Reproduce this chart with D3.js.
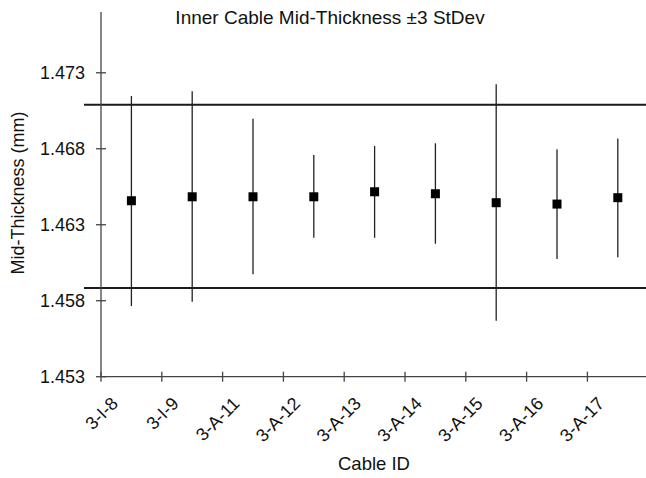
<!DOCTYPE html>
<html><head><meta charset="utf-8">
<script src="https://cdn.jsdelivr.net/npm/d3@7"></script>
<style>html,body{margin:0;padding:0;background:#fff;}svg{display:block;}</style>
</head><body>
<script>
const categories = ["3-I-8","3-I-9","3-A-11","3-A-12","3-A-13","3-A-14","3-A-15","3-A-16","3-A-17"];
const means = [1.46458,1.46484,1.46484,1.46484,1.46517,1.46504,1.46445,1.46436,1.46478];
const upper = [1.47147,1.47178,1.46997,1.46759,1.46818,1.46836,1.47224,1.46796,1.46868];
const lower = [1.45765,1.45793,1.45974,1.46214,1.46214,1.46175,1.45668,1.46074,1.46086];
const limits = [1.45884,1.47090];
const yTicks = [1.453,1.458,1.463,1.468,1.473];
const title = "Inner Cable Mid-Thickness \u00b13 StDev";

const W=646,H=478;
const svg=d3.select("body").append("svg").attr("width",W).attr("height",H)
  .style("font-family","Arial, 'Liberation Sans', sans-serif");

const x0=101, step=60.8;
const x=d3.scaleLinear().domain([0,9]).range([x0,x0+9*step]);
const y=d3.scaleLinear().domain([1.453,1.477]).range([376.7,12]);

// limit lines
svg.selectAll("line.lim").data(limits).enter().append("line")
  .attr("x1",84).attr("x2",W).attr("y1",d=>y(d)).attr("y2",d=>y(d))
  .attr("stroke","#1a1a1a").attr("stroke-width",2);

// axes
svg.append("line").attr("x1",x0).attr("x2",x0).attr("y1",y(1.477)).attr("y2",y(1.453))
  .attr("stroke","#444").attr("stroke-width",1.3);
svg.append("line").attr("x1",x0).attr("x2",W).attr("y1",y(1.453)).attr("y2",y(1.453))
  .attr("stroke","#444").attr("stroke-width",1.3);

// y ticks
svg.selectAll("line.yt").data(yTicks).enter().append("line")
  .attr("x1",x0-5).attr("x2",x0+5).attr("y1",d=>y(d)).attr("y2",d=>y(d))
  .attr("stroke","#444").attr("stroke-width",1.3);
svg.selectAll("text.yt").data(yTicks).enter().append("text")
  .attr("x",85).attr("y",d=>y(d)).attr("dy","0.35em").attr("text-anchor","end")
  .attr("font-size",18).attr("fill","#111").text(d=>d3.format(".3f")(d));

// x ticks
const xt=d3.range(0,9);
svg.selectAll("line.xt").data(xt).enter().append("line")
  .attr("x1",d=>x(d)).attr("x2",d=>x(d)).attr("y1",y(1.453)-5).attr("y2",y(1.453)+5)
  .attr("stroke","#444").attr("stroke-width",1.3);
svg.selectAll("text.xl").data(categories).enter().append("text")
  .attr("transform",(d,i)=>`translate(${x(i)+18},${y(1.453)+28}) rotate(-45)`)
  .attr("text-anchor","end").attr("font-size",18).attr("fill","#111").text(d=>d);

// error bars
svg.selectAll("line.err").data(categories).enter().append("line")
  .attr("x1",(d,i)=>x(i+0.5)).attr("x2",(d,i)=>x(i+0.5))
  .attr("y1",(d,i)=>y(upper[i])).attr("y2",(d,i)=>y(lower[i]))
  .attr("stroke","#222").attr("stroke-width",1.3);

// markers
const ms=9;
svg.selectAll("rect.m").data(categories).enter().append("rect")
  .attr("x",(d,i)=>x(i+0.5)-ms/2).attr("y",(d,i)=>y(means[i])-ms/2)
  .attr("width",ms).attr("height",ms).attr("fill","#000");

// titles
svg.append("text").attr("x",330).attr("y",24).attr("text-anchor","middle")
  .attr("font-size",19).attr("fill","#111").text(title);
svg.append("text").attr("x",374).attr("y",470).attr("text-anchor","middle")
  .attr("font-size",18.5).attr("fill","#111").text("Cable ID");
svg.append("text").attr("transform","translate(24,193) rotate(-90)").attr("text-anchor","middle")
  .attr("font-size",18).attr("fill","#111").text("Mid-Thickness (mm)");
</script>
</body></html>
